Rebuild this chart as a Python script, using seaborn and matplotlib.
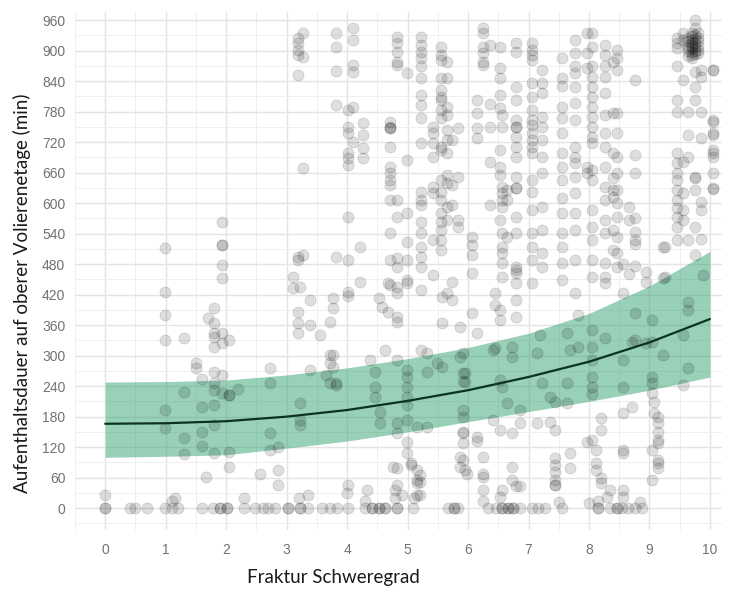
import numpy as np
import pandas as pd
import matplotlib
matplotlib.use("Agg")
import matplotlib.pyplot as plt
import seaborn as sns
from matplotlib.ticker import MultipleLocator

# ---------------- data ----------------
# points lying on y = 0 (x positions; repeated where the dots look darker)
zero_x = [0, 0, 0.41, 0.5, 0.69, 0.99, 1.1, 1.2, 1.6, 1.79, 1.9, 1.9, 2.01, 2.01,
          2.3, 2.48, 2.61, 2.7, 2.81, 3.02, 3.02, 3.22, 3.22, 3.36, 3.58, 3.72,
          3.83, 4.02, 4.3, 4.41, 4.41, 4.52, 4.52, 4.63, 4.63, 4.82, 4.82, 5.09,
          5.67, 5.76, 5.76, 5.84, 6.33, 6.47, 6.56, 6.56, 6.66, 6.66, 6.75, 6.75,
          6.86, 7.06, 7.16, 7.27, 7.55, 8.15, 8.15, 8.35, 8.46, 8.46, 8.55, 8.65,
          8.76, 8.88]

# points just above zero
near_x = [0, 1.1, 1.15, 2.3, 3.2, 3.35, 4.0, 4.02, 4.3, 4.8, 4.8, 4.82, 4.9, 5.1,
          5.15, 6.25, 6.53, 6.56, 6.8, 7.44, 7.5, 8.0, 8.15, 8.3, 8.35, 8.85]
near_y = [25, 15, 20, 20, 20, 25, 30, 45, 15, 20, 35, 45, 25, 20,
          26, 15, 22, 35, 43, 45, 12, 10, 15, 22, 35, 12]

# vertical columns of points: fracture score and durations (min)
col_x = [0.99, 1.31, 1.5, 1.6, 1.66, 1.7, 1.8, 1.93, 2.05, 2.2, 2.56, 2.73, 2.85,
         3.1, 3.19, 3.22, 3.27, 3.39, 3.55, 3.65, 3.72, 3.77, 3.82, 4.02, 4.1,
         4.21, 4.27, 4.33, 4.38, 4.46, 4.52, 4.55, 4.57, 4.63, 4.68, 4.71, 4.76,
         4.82, 4.99, 5.05, 5.15, 5.2, 5.22, 5.32, 5.42, 5.48, 5.55, 5.57, 5.65,
         5.74, 5.84, 5.87, 5.92, 5.95, 5.98, 6.06, 6.15, 6.25, 6.36, 6.41, 6.45,
         6.53, 6.56, 6.64, 6.73, 6.8, 6.86, 7.06, 7.14, 7.19, 7.22, 7.36, 7.44,
         7.55, 7.64, 7.69, 7.77, 7.82, 7.97, 8.05, 8.12, 8.2, 8.26, 8.4, 8.46,
         8.56, 8.66, 8.71, 8.76, 8.95, 9.04, 9.08, 9.14, 9.22, 9.26, 9.45, 9.55,
         9.64, 9.7, 9.75, 9.8, 9.85, 9.88, 10.05]
col_y = [
    [512, 425, 380, 331, 193, 157],
    [335, 228, 138, 106],
    [285, 275],
    [199, 150, 122, 255],
    [61],
    [374],
    [393, 364, 344, 337, 317, 268, 246, 232, 203, 163, 108],
    [563, 518, 518, 478, 452, 344, 325, 262, 226],
    [331, 222, 222, 110, 81],
    [235],
    [68],
    [275, 246, 147, 114],
    [120, 75, 45],
    [455, 433],
    [925, 915, 902, 892, 852, 494, 488, 386, 364, 345],
    [435, 206, 163, 173],
    [935, 888, 669, 498],
    [360, 272, 410],
    [340],
    [262],
    [366, 301, 285, 246],
    [413, 393, 301, 278],
    [935, 908, 859, 793, 494, 246, 242],
    [783, 750, 738, 699, 689, 675, 573, 488, 425, 418],
    [945, 921, 872, 858, 790, 721],
    [514, 445],
    [757, 734, 709, 689],
    [35],
    [291],
    [268, 239, 219],
    [413],
    [189, 167],
    [396],
    [311],
    [443, 386],
    [760, 750, 748, 748, 711, 672, 659, 646, 636, 606, 541, 488, 439],
    [81],
    [927, 915, 898, 878, 872, 606, 573, 492, 475, 435, 423, 366, 376, 291, 167, 147, 79],
    [856, 685, 580, 524, 488, 449, 443, 272, 258, 239, 219, 203, 173, 130, 108],
    [85, 88],
    [75, 55, 50, 160],
    [65, 51, 26],
    [927, 911, 898, 885, 869, 846, 813, 793, 767, 718, 622, 606, 596, 563, 541, 514, 494, 475, 429, 311],
    [305, 268, 160],
    [750, 738, 718, 691, 632, 620, 527, 459],
    [285],
    [908, 892, 882, 846, 823, 809, 803, 783, 767, 711, 705, 646, 622, 606, 580, 563, 547, 527, 508],
    [278, 364, 416],
    [878, 846, 790, 773, 744, 724, 699, 655, 640, 592, 567, 423],
    [724, 636, 596, 445, 410],
    [748, 652, 567, 553],
    [298, 100, 81, 357],
    [265, 250, 305, 193, 180, 150, 147, 128, 94],
    [266, 248, 75],
    [68],
    [534, 518, 498, 462, 383],
    [803, 777, 748, 728, 344, 140, 133],
    [945, 935, 895, 878, 872, 908, 100, 68, 61, 35],
    [911, 795, 750, 681, 596],
    [311, 173],
    [423, 400, 315],
    [908, 866, 846, 813, 787, 705, 672, 656, 567, 390, 370, 252, 154],
    [773, 750, 632, 620, 606, 592, 541, 514, 502, 482, 455, 239],
    [626, 606, 534, 206],
    [317, 298, 147, 81, 55],
    [915, 898, 829, 803, 764, 750, 750, 730, 711, 691, 652, 630, 630, 573, 541, 475, 462, 469, 443, 410, 376],
    [193, 167, 43],
    [915, 902, 892, 882, 836, 809, 783, 764, 754, 738, 724, 711, 699, 646, 622, 587, 541, 514, 488, 443],
    [305, 167],
    [340],
    [862, 836, 816, 770, 750, 724, 691, 659, 592, 547, 502, 475, 246],
    [219, 170],
    [209, 154, 98, 85, 72, 55, 45],
    [885, 846, 830, 790, 767, 738, 699, 672, 646, 610, 580, 541, 514, 482, 449],
    [344, 206, 246],
    [311, 108, 79],
    [921, 895, 869, 856, 829, 797, 764, 711, 691, 679, 652, 620, 580, 547, 488, 423],
    [380, 317],
    [935, 895, 866, 130, 672, 659],
    [935, 908, 869, 849, 829, 809, 790, 770, 750, 730, 718, 665, 646, 587, 553, 527, 488, 455, 350, 317, 291, 258, 239, 225, 134],
    [114, 88, 75],
    [59, 49, 177, 154],
    [911, 892, 869, 849, 816, 773, 738, 711, 672, 632, 606, 567, 541, 482, 455, 443, 334],
    [877, 777, 699, 650, 626, 612, 547, 508],
    [902, 885, 862, 777, 738, 691, 659, 626, 600, 573, 534, 502, 475],
    [480, 423, 291, 239, 187, 114, 108, 35, 22],
    [592, 567, 461],
    [327, 199],
    [843, 695, 659, 570, 543, 528, 520, 477, 383, 331],
    [465, 445, 324],
    [370, 327, 258, 246, 226, 114, 55],
    [209, 187],
    [180, 167, 150, 134, 128, 94, 79, 88],
    [514, 452, 301],
    [514, 455],
    [925, 915, 905, 869, 803, 780, 699, 679, 659, 646, 626, 606, 590, 573, 553, 527],
    [935, 921, 843, 681, 620, 587, 567, 340, 242],
    [925, 918, 912, 906, 900, 890, 780, 734, 691, 528, 406, 390, 275],
    [935, 928, 920, 915, 910, 905, 898, 892, 885],
    [960, 945, 930, 922, 915, 908, 900, 893, 858, 829, 803, 652, 650, 626, 553, 498],
    [935, 925, 918, 910, 902, 895],
    [862, 849, 780, 728, 602, 587, 530],
    [459],
    [862, 862, 760, 764, 738, 734, 705, 699, 691, 659, 630, 628],
]

# fitted model and its confidence band
fit_x = [0, 1, 2, 3, 4, 5, 6, 7, 8, 9, 10]
fit_y = [166, 167, 171, 180, 193, 211, 232, 258, 288, 326, 372]
fit_lo = [100, 102, 105, 118, 132, 150, 170, 190, 210, 232, 258]
fit_hi = [248, 249, 252, 262, 276, 294, 316, 344, 383, 437, 505]

x_ticks = list(range(0, 11))
y_ticks = list(range(0, 961, 60))

# ---------------- build tables ----------------
px, py = [], []
for x, ys in zip(col_x, col_y):
    px += [x] * len(ys)
    py += ys
px += near_x
py += near_y
px += zero_x
py += [0] * len(zero_x)
pts = pd.DataFrame({"Fraktur": px, "Dauer": py})
fit = pd.DataFrame({"Fraktur": fit_x, "fit": fit_y, "lo": fit_lo, "hi": fit_hi})

# ---------------- plot ----------------
sns.set_theme(style="white")
plt.rcParams["font.family"] = ["Liberation Sans", "DejaVu Sans"]

W, H = 731, 591
fig = plt.figure(figsize=(W / 100, H / 100), dpi=100)
ax = fig.add_axes([75 / W, 1 - 530 / H, (722 - 75) / W, (530 - 12) / H])

ax.fill_between(fit["Fraktur"], fit["lo"], fit["hi"], color="#299d6b",
                alpha=0.48, linewidth=0, zorder=2)
sns.scatterplot(data=pts, x="Fraktur", y="Dauer", ax=ax, color="black",
                alpha=0.13, s=64, edgecolor="black", linewidth=0.6,
                legend=False, zorder=3)
sns.lineplot(data=fit, x="Fraktur", y="fit", ax=ax, color="#0b3320",
             linewidth=1.6, zorder=4)

ax.set_xlim(-0.5, 10.2)
ax.set_ylim(-43, 976)
ax.set_xticks(x_ticks)
ax.set_yticks(y_ticks)
ax.xaxis.set_minor_locator(MultipleLocator(0.5))
ax.yaxis.set_minor_locator(MultipleLocator(30))
ax.grid(which="major", color="#e4e4e4", linewidth=1.0, zorder=0)
ax.grid(which="minor", color="#efefef", linewidth=0.7, zorder=0)
ax.set_axisbelow(True)
for s in ax.spines.values():
    s.set_visible(False)
ax.tick_params(axis="both", which="both", length=0, labelsize=10,
               labelcolor="#727272")
ax.tick_params(axis="y", pad=7)
ax.tick_params(axis="x", pad=9)
ax.set_xlabel("")
ax.set_ylabel("")

fig.text(333 / W, 1 - 578 / H, "Fraktur Schweregrad", ha="center", va="center",
         fontsize=13.5, family=["Lato", "DejaVu Sans"], color="#1a1a1a")
fig.text(22 / W, 1 - 293 / H, "Aufenthaltsdauer auf oberer Volierenetage (min)",
         ha="center", va="center", rotation=90, fontsize=13.5,
         family=["Lato", "DejaVu Sans"], color="#1a1a1a")

fig.savefig("out.png", dpi=100)
